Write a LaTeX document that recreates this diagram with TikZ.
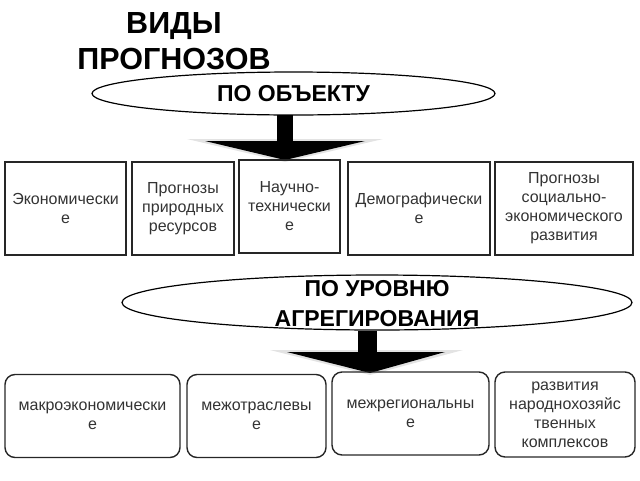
\documentclass[tikz,border=0pt]{standalone}
\usepackage{fontspec}
\setmainfont{Liberation Sans}
\usetikzlibrary{shapes.geometric}

\begin{document}
\begin{tikzpicture}[x=1pt,y=-1pt,
    every node/.style={inner sep=0pt,align=center,font=\fontsize{16}{19}\selectfont},
    kind/.style={draw=black!85,line width=1.4pt,text=black!80,minimum height=93pt},
    level/.style={kind,rounded corners=10pt,minimum height=83pt},
    oval/.style={draw,ellipse,line width=1.2pt},
    headline/.style={font=\bfseries\fontsize{23}{30}\selectfont}]
    \useasboundingbox (0,0) rectangle (640,480);
    \node[font=\bfseries\fontsize{30.5}{36}\selectfont] (title) at (174,41) {ВИДЫ\\ПРОГНОЗОВ};
    % first split: by object
    \node[oval,headline,minimum width=403pt,minimum height=43pt] (obj) at (293.5,93.5) {ПО ОБЪЕКТУ};
    \fill[gray!22] (187,139) -- (383,139) -- (285,162) -- cycle;
    \fill (205,141) -- (365,141) -- (285,160) -- cycle;
    \fill (277,115) rectangle (293,142);
    \node[kind,minimum width=121pt] (econ) at (65.5,208.5) {Экономически\\е};
    \node[kind,minimum width=102pt] (nature) at (183,208.5) {Прогнозы\\природных\\ресурсов};
    \node[kind,minimum width=101pt] (tech) at (289.5,206.5) {Научно-\\технически\\е};
    \node[kind,minimum width=142pt] (demo) at (419,208.5) {Демографически\\е};
    \node[kind,minimum width=138pt] (social) at (564,208.5) {Прогнозы\\социально-\\экономического\\развития};
    % second split: by level of aggregation
    \node[oval,minimum width=510pt,minimum height=55pt] (agg) at (377,302.5) {};
    \node[headline] (aggtext) at (377,304) {ПО УРОВНЮ\\АГРЕГИРОВАНИЯ};
    \fill[gray!22] (270,350) -- (463,350) -- (370,375) -- cycle;
    \fill (287,352) -- (445,352) -- (370,373) -- cycle;
    \fill (358,331) rectangle (377,353);
    \node[level,minimum width=175pt] (macro) at (92.5,416) {макроэкономически\\е};
    \node[level,minimum width=139pt] (inter) at (256.5,416) {межотраслевы\\е};
    \node[level,minimum width=157pt] (region) at (410.5,413.5) {межрегиональны\\е};
    \node[level,minimum width=140pt,minimum height=85pt] (complex) at (565,414.5) {развития\\народнохозяйс\\твенных\\комплексов};
\end{tikzpicture}
\end{document}
